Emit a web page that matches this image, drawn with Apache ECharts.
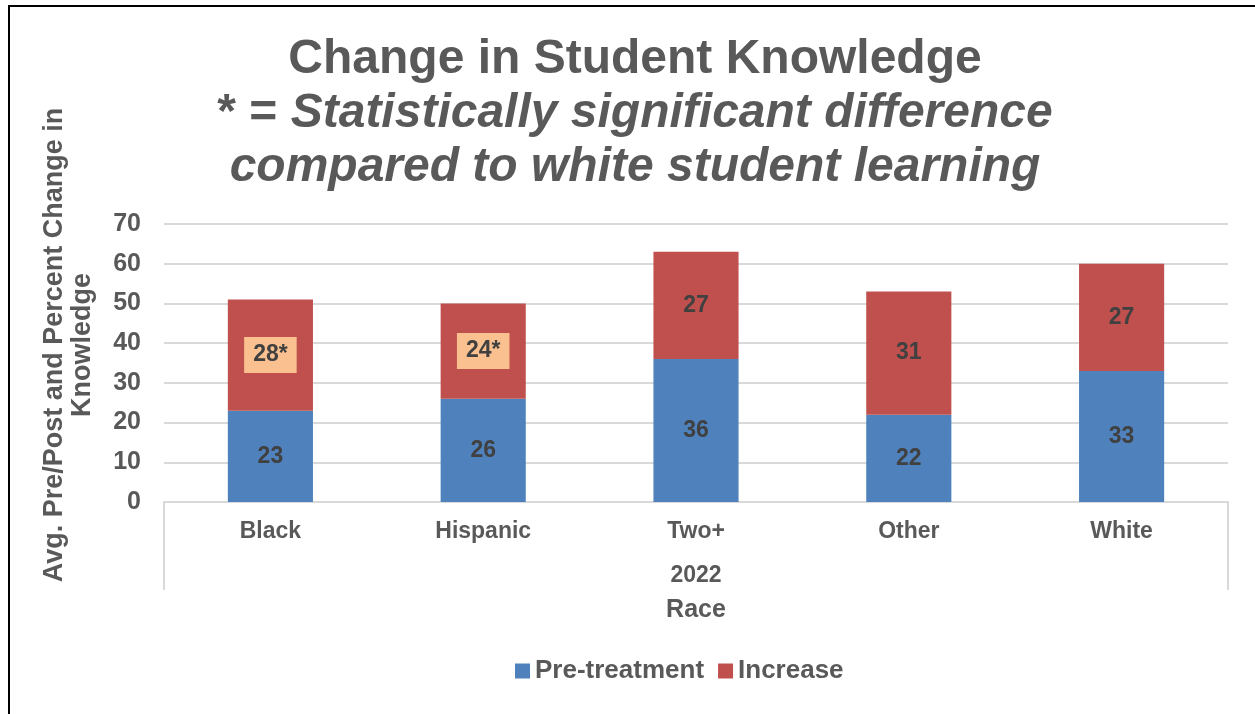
<!DOCTYPE html>
<html>
<head>
<meta charset="utf-8">
<script src="https://cdn.jsdelivr.net/npm/echarts@6/dist/echarts.min.js"></script>
<style>
html,body{margin:0;padding:0;background:#fff;}
#wrap{position:relative;width:1255px;height:714px;overflow:hidden;}
#frame{position:absolute;left:8px;top:5px;width:1260px;height:720px;border-top:2px solid #000;border-left:2px solid #000;pointer-events:none;}
#chart{position:absolute;left:0;top:0;width:1255px;height:714px;}
</style>
</head>
<body>
<div id="wrap"><div id="chart"></div><div id="frame"></div></div>
<script>
const categories = ['Black', 'Hispanic', 'Two+', 'Other', 'White'];
const preTreatment = [23, 26, 36, 22, 33];
const increase = [28, 24, 27, 31, 27];
const significant = [true, true, false, false, false];
const yTicks = [0, 10, 20, 30, 40, 50, 60, 70];
const groupLabel = ['2022'];

const FONT = 'Liberation Sans, Arial, sans-serif';
const GREY = '#595959';
const LABEL = '#404040';

const chart = echarts.init(document.getElementById('chart'));
const option = {
  animation: false,
  textStyle: { fontFamily: FONT },
  title: {
    left: 630,
    textAlign: 'center',
    top: 28,
    text: 'Change in Student Knowledge\n{s|* = }{i|Statistically significant difference}\n{i|compared to white student learning}',
    textStyle: {
      fontFamily: FONT, fontSize: 48, fontWeight: 'bold', color: GREY, lineHeight: 54,
      rich: {
        s: { fontFamily: FONT, fontSize: 48, fontWeight: 'bold', color: GREY, lineHeight: 54 },
        i: { fontFamily: FONT, fontSize: 48, fontWeight: 'bold', fontStyle: 'italic', color: GREY, lineHeight: 54 }
      }
    }
  },
  legend: {
    bottom: 25,
    left: 510,
    itemWidth: 15, itemHeight: 15, itemGap: 14,
    icon: 'rect',
    textStyle: { fontFamily: FONT, fontSize: 26, fontWeight: 'bold', color: GREY, padding: [0, 0, 0, 0] },
    data: ['Pre-treatment', 'Increase']
  },
  grid: { left: 164, right: 27, top: 224, bottom: 212, containLabel: false },
  xAxis: [
    {
      type: 'category', data: categories, position: 'bottom',
      axisLine: { show: true, lineStyle: { color: '#D9D9D9', width: 2 } },
      axisTick: { show: false },
      axisLabel: { fontFamily: FONT, fontSize: 23, fontWeight: 'bold', color: GREY, margin: 18 }
    },
    {
      type: 'category', data: groupLabel, position: 'bottom',
      axisLine: { show: false },
      axisTick: { show: true, length: 88, lineStyle: { color: '#D9D9D9', width: 2 } },
      axisLabel: { fontFamily: FONT, fontSize: 23, fontWeight: 'bold', color: GREY, margin: 62 },
      name: 'Race', nameLocation: 'middle', nameGap: 96,
      nameTextStyle: { fontFamily: FONT, fontSize: 25, fontWeight: 'bold', color: GREY }
    }
  ],
  yAxis: {
    type: 'value', min: yTicks[0], max: yTicks[yTicks.length - 1], interval: 10,
    axisLine: { show: false }, axisTick: { show: false },
    splitLine: { lineStyle: { color: '#D9D9D9', width: 2 } },
    axisLabel: { fontFamily: FONT, fontSize: 25, fontWeight: 'bold', color: GREY, margin: 23 },
    name: 'Avg. Pre/Post and Percent Change in\nKnowledge',
    nameLocation: 'middle', nameRotate: 90, nameGap: 67,
    nameTextStyle: { fontFamily: FONT, fontSize: 27, fontWeight: 'bold', color: GREY, lineHeight: 28, padding: [0, 0, 0, 36] }
  },
  series: [
    {
      name: 'Pre-treatment', type: 'bar', stack: 'total', barWidth: '40%',
      itemStyle: { color: '#4F81BD' },
      label: { show: true, position: 'inside', fontFamily: FONT, fontSize: 23, fontWeight: 'bold', color: LABEL },
      data: preTreatment
    },
    {
      name: 'Increase', type: 'bar', stack: 'total', barWidth: '40%',
      itemStyle: { color: '#C0504D' },
      label: { show: true, position: 'inside', fontFamily: FONT, fontSize: 23, fontWeight: 'bold', color: LABEL },
      data: increase.map((v, i) => significant[i] ? {
        value: v,
        label: { formatter: v + '*', backgroundColor: '#FAC090', padding: [7, 9, 6, 9] }
      } : v)
    }
  ]
};
chart.setOption(option);
</script>
</body>
</html>
